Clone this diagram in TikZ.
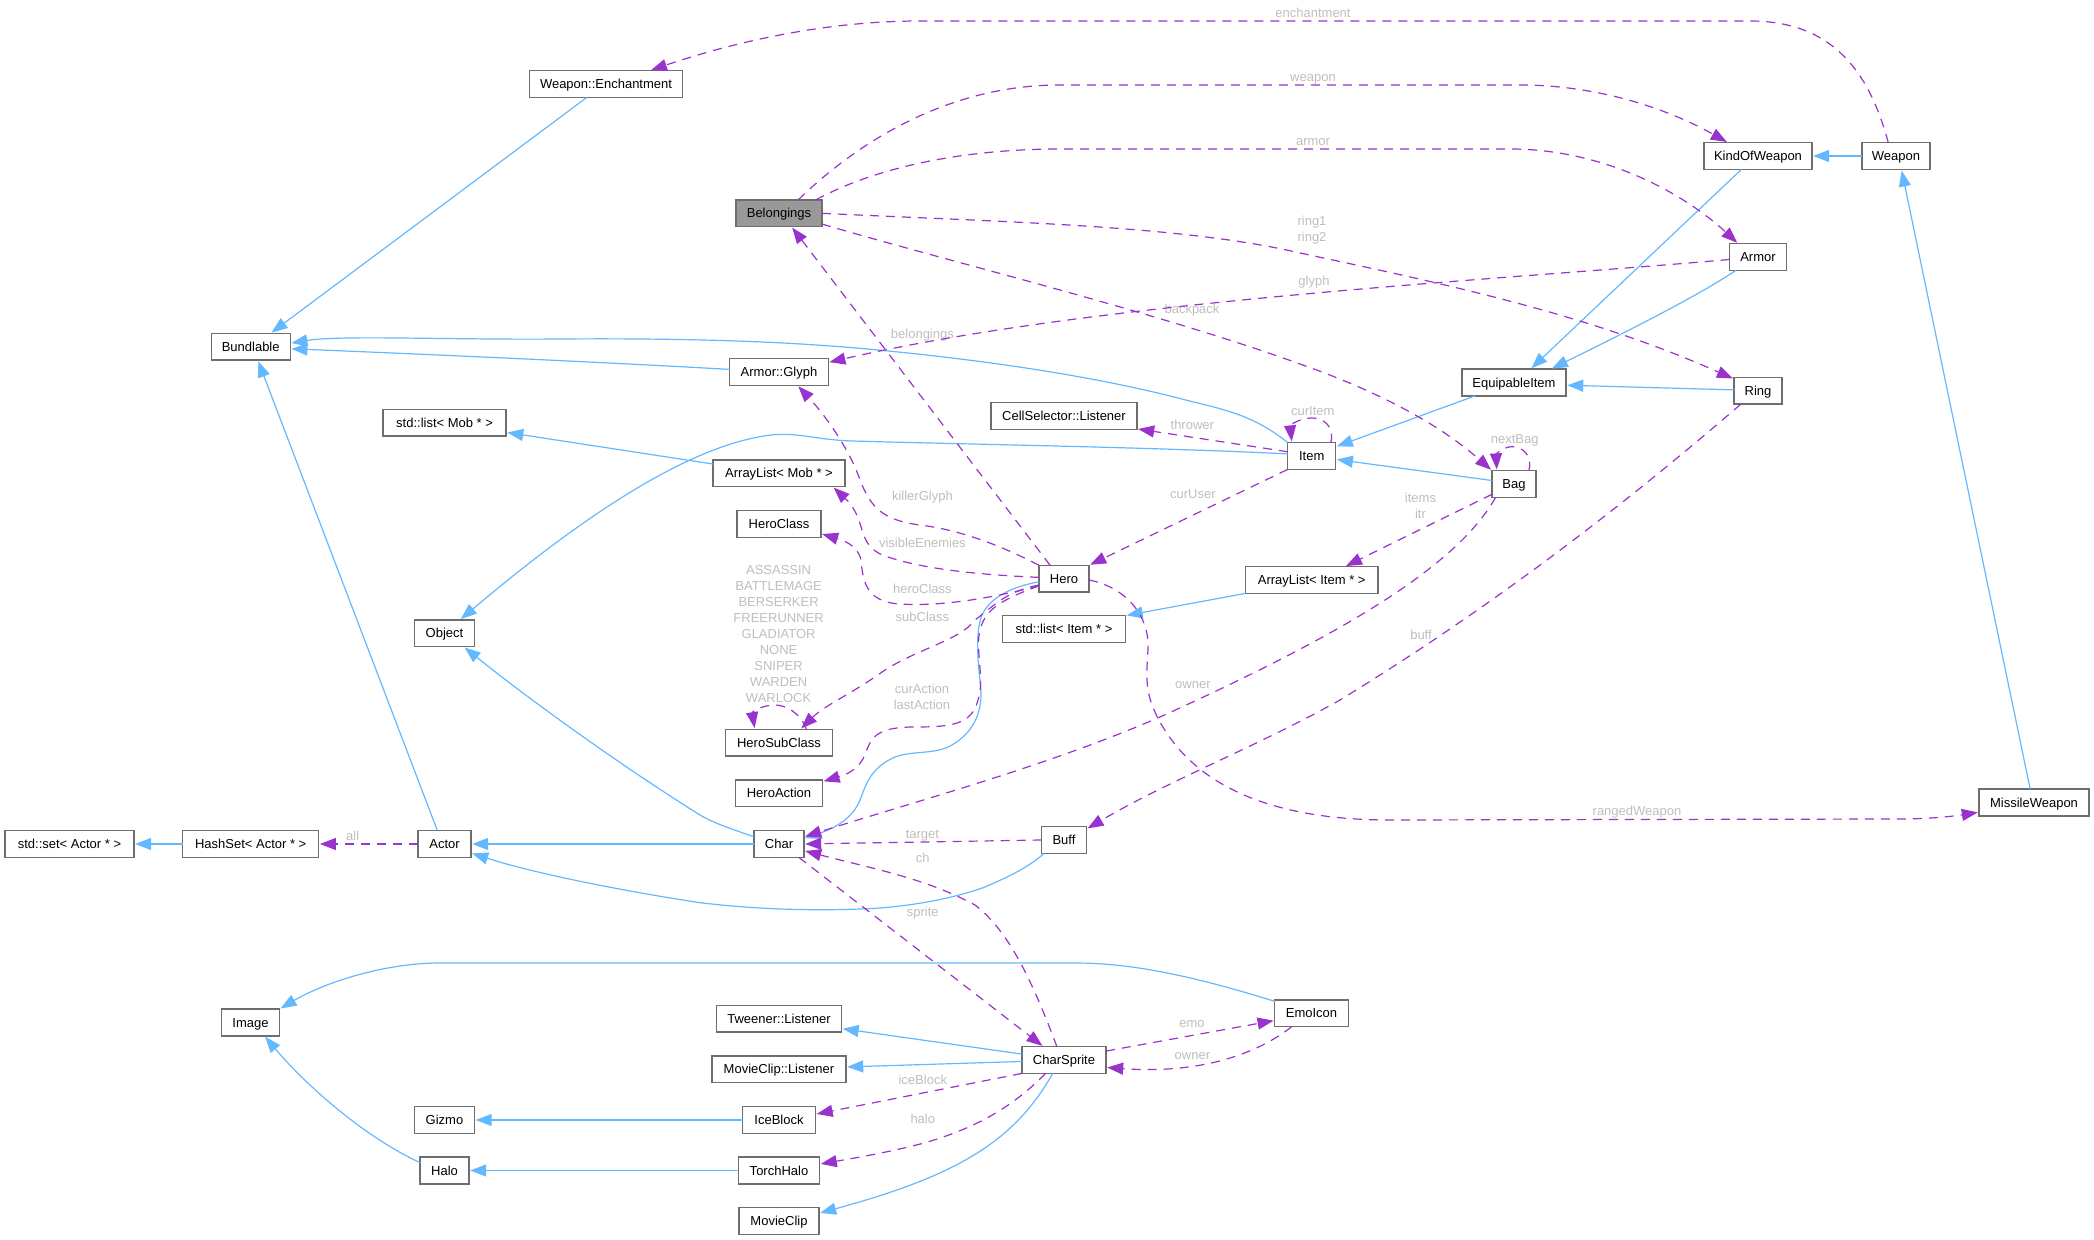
\documentclass[tikz,border=0pt]{standalone}
\usepackage{fontspec}
\setmainfont{Liberation Sans}
\usetikzlibrary{arrows.meta}
\definecolor{inheritblue}{HTML}{63B8FF}
\definecolor{usepurple}{HTML}{9A32CD}
\definecolor{boxgray}{HTML}{6E6E6E}
\definecolor{focusgray}{HTML}{999999}
\definecolor{labelgray}{HTML}{BEBEBE}
\begin{document}
\begin{tikzpicture}[x=0.5pt, y=-0.5pt]

    % Styles
    \tikzstyle{classbox} = [rectangle, minimum height=13.4pt, inner sep=0pt, outer sep=0pt, text centered, text height=6pt, text depth=1.35pt, draw=boxgray, line width=0.65pt, fill=white, font=\fontsize{6.5}{8}\selectfont]
    \tikzstyle{focusbox} = [classbox, fill=focusgray]
    \tikzstyle{edgelines} = [inner sep=0pt, align=center, text=labelgray, font=\fontsize{6.5}{8}\selectfont]
    \tikzstyle{edgetext} = [edgelines, text height=6pt, text depth=1.35pt]
    \tikzstyle{extends} = [line width=0.6pt, color=inheritblue, shorten >=0.6pt, -{Triangle[length=8pt,width=6pt]}]
    \tikzstyle{uses} = [line width=0.6pt, color=usepurple, dash pattern=on 4.5pt off 3.5pt, shorten >=0.6pt, -{Triangle[length=8pt,width=6pt]}]

    \useasboundingbox (0,0) rectangle (2094,1240);

    % Nodes
    \node (belongings) [focusbox, minimum width=43pt] at (779,213.3) {Belongings};
    \node (enchantment) [classbox, minimum width=76.7pt] at (606,84) {Weapon::Enchantment};
    \node (kind-of-weapon) [classbox, minimum width=54pt] at (1758,156) {KindOfWeapon};
    \node (weapon) [classbox, minimum width=34pt] at (1896,156) {Weapon};
    \node (armor) [classbox, minimum width=28.5pt] at (1758,257) {Armor};
    \node (ring) [classbox, minimum width=24pt] at (1758,390.7) {Ring};
    \node (equipable) [classbox, minimum width=52pt] at (1514,382.5) {EquipableItem};
    \node (bundlable) [classbox, minimum width=39.5pt] at (250.7,346.7) {Bundlable};
    \node (armor-glyph) [classbox, minimum width=49.2pt] at (779,372) {Armor::Glyph};
    \node (cell-listener) [classbox, minimum width=73pt] at (1064,416) {CellSelector::Listener};
    \node (item) [classbox, minimum width=24pt] at (1311.7,456) {Item};
    \node (bag) [classbox, minimum width=22pt] at (1514,484) {Bag};
    \node (list-mob) [classbox, minimum width=61.5pt] at (444.6,422.6) {std::list< Mob * >};
    \node (array-mob) [classbox, minimum width=66pt] at (779,473.3) {ArrayList< Mob * >};
    \node (hero-class) [classbox, minimum width=42pt] at (779,524) {HeroClass};
    \node (hero) [classbox, minimum width=25pt] at (1064,578.7) {Hero};
    \node (array-item) [classbox, minimum width=66.3pt] at (1311.7,580) {ArrayList< Item * >};
    \node (list-item) [classbox, minimum width=61.5pt] at (1064,629) {std::list< Item * >};
    \node (object) [classbox, minimum width=30pt] at (444.5,633.3) {Object};
    \node (hero-subclass) [classbox, minimum width=53.5pt] at (779,742.7) {HeroSubClass};
    \node (hero-action) [classbox, minimum width=43.5pt] at (779,793.3) {HeroAction};
    \node (missile) [classbox, minimum width=55pt] at (2034,802.5) {MissileWeapon};
    \node (buff) [classbox, minimum width=22.5pt] at (1064,840) {Buff};
    \node (set-actor) [classbox, minimum width=64.5pt] at (69.5,844) {std::set< Actor * >};
    \node (hashset) [classbox, minimum width=68pt] at (250.7,844) {HashSet< Actor * >};
    \node (actor) [classbox, minimum width=26.5pt] at (444.5,844) {Actor};
    \node (char) [classbox, minimum width=25pt] at (779,844) {Char};
    \node (emoicon) [classbox, minimum width=36.8pt] at (1311.5,1013.3) {EmoIcon};
    \node (image) [classbox, minimum width=29pt] at (250.5,1022.5) {Image};
    \node (tween-listener) [classbox, minimum width=62.5pt] at (779,1018.7) {Tweener::Listener};
    \node (charsprite) [classbox, minimum width=42pt] at (1064,1060) {CharSprite};
    \node (clip-listener) [classbox, minimum width=67pt] at (779,1069.3) {MovieClip::Listener};
    \node (gizmo) [classbox, minimum width=30pt] at (444.5,1120) {Gizmo};
    \node (iceblock) [classbox, minimum width=36.5pt] at (779,1120) {IceBlock};
    \node (halo) [classbox, minimum width=24.5pt] at (444.5,1170.5) {Halo};
    \node (torchhalo) [classbox, minimum width=40.6pt] at (779,1170.5) {TorchHalo};
    \node (movieclip) [classbox, minimum width=40pt] at (779,1221) {MovieClip};

    % Labels
    \node (txt-enchantment) [edgetext] at (1313,13) {enchantment};
    \node (txt-weapon) [edgetext] at (1313,77) {weapon};
    \node (txt-armor) [edgetext] at (1313,141) {armor};
    \node (txt-ring) [edgelines] at (1312,230.5) {ring1\\ring2};
    \node (txt-glyph) [edgetext] at (1314,281) {glyph};
    \node (txt-backpack) [edgetext] at (1192,309) {backpack};
    \node (txt-belongings) [edgetext] at (922.4,334) {belongings};
    \node (txt-curitem) [edgetext] at (1312.8,411) {curItem};
    \node (txt-thrower) [edgetext] at (1192.3,424.7) {thrower};
    \node (txt-nextbag) [edgetext] at (1514.7,439.3) {nextBag};
    \node (txt-cursuser) [edgetext] at (1192.9,494) {curUser};
    \node (txt-killer) [edgetext] at (922.4,496) {killerGlyph};
    \node (txt-items) [edgelines] at (1420.5,506.2) {items\\itr};
    \node (txt-visible) [edgetext] at (922.4,542.7) {visibleEnemies};
    \node (txt-heroclass) [edgetext] at (922.4,589) {heroClass};
    \node (txt-subclass) [edgetext] at (922.4,617.3) {subClass};
    \node (txt-enum) [edgelines] at (778.6,634.5) {ASSASSIN\\BATTLEMAGE\\BERSERKER\\FREERUNNER\\GLADIATOR\\NONE\\SNIPER\\WARDEN\\WARLOCK};
    \node (txt-buff) [edgetext] at (1421,634.7) {buff};
    \node (txt-owner) [edgetext] at (1192.9,684) {owner};
    \node (txt-action) [edgelines] at (922,697.2) {curAction\\lastAction};
    \node (txt-ranged) [edgetext] at (1637,810.7) {rangedWeapon};
    \node (txt-target) [edgetext] at (922.4,834) {target};
    \node (txt-all) [edgetext] at (352.7,835.8) {all};
    \node (txt-ch) [edgetext] at (922.8,858) {ch};
    \node (txt-sprite) [edgetext] at (922.8,912) {sprite};
    \node (txt-emo) [edgetext] at (1192,1023) {emo};
    \node (txt-spriteowner) [edgetext] at (1192.4,1055) {owner};
    \node (txt-iceblock) [edgetext] at (922.8,1080) {iceBlock};
    \node (txt-halo) [edgetext] at (922.8,1118.7) {halo};

    % Inheritance arrows
    \draw [extends] (enchantment.215) -- (bundlable.34);
    \draw [extends] (item.north west) .. controls (1250,412) and (1215,408) .. (1178,398) .. controls (1100,378) and (1000,362) .. (888,351) .. controls (800,342) and (700,338) .. (560,339) .. controls (450,340) and (340,335) .. (bundlable.5);
    \draw [extends] (armor-glyph.177) .. controls (600,362) and (420,354) .. (bundlable.357);
    \draw [extends] (actor.118) -- (bundlable.298);
    \draw [extends] (item.175) .. controls (1150,447) and (950,444) .. (853,441) .. controls (815,440) and (795,431) .. (766,435.7) .. controls (690,447) and (590,510) .. (object.41);
    \draw [extends] (array-mob.172) -- (list-mob.351);
    \draw [extends] (char.west) -- (actor.east);
    \draw [extends] (char.164) .. controls (735,830) and (715,824) .. (700,815) .. controls (620,765) and (530,700) .. (object.325);
    \draw [extends] (buff.214) .. controls (1025,870) and (1005,878) .. (985.7,886.7) .. controls (950,900) and (900,908) .. (860,909) .. controls (780,912) and (720,905) .. (700,902.7) .. controls (630,892) and (540,875) .. (actor.341);
    \draw [extends] (hero.187) .. controls (1010,587) and (990,598) .. (982,615) .. controls (974,635) and (979,670) .. (981,690) .. controls (982,715) and (972,733) .. (952,745) .. controls (935,755) and (915,750) .. (895,757) .. controls (870,768) and (866,785) .. (860,800) .. controls (853,818) and (835,828) .. (char.12);
    \draw [extends] (weapon.west) -- (kind-of-weapon.east);
    \draw [extends] (kind-of-weapon.219) -- (equipable.39);
    \draw [extends] (armor.211) .. controls (1700,295) and (1620,335) .. (equipable.20);
    \draw [extends] (ring.178) -- (equipable.357);
    \draw [extends] (equipable.199) -- (item.21);
    \draw [extends] (bag.171) -- (item.352);
    \draw [extends] (array-item.south west) -- (list-item.north east);
    \draw [extends] (missile.106) -- (weapon.292);
    \draw [extends] (hashset.west) -- (set-actor.east);
    \draw [extends] (emoicon.162) .. controls (1190,975) and (1130,963) .. (1075,963) -- (440,963) .. controls (380,963) and (320,985) .. (image.north east);
    \draw [extends] (halo.162) .. controls (370,1140) and (310,1090) .. (image.316);
    \draw [extends] (iceblock.west) -- (gizmo.east);
    \draw [extends] (torchhalo.west) -- (halo.east);
    \draw [extends] (charsprite.172) -- (tween-listener.351);
    \draw [extends] (charsprite.182) -- (clip-listener.2);
    \draw [extends] (charsprite.230) .. controls (1015,1140) and (960,1175) .. (movieclip.11);

    % Usage arrows
    \draw [uses] (weapon.120) .. controls (1870,75) and (1835,21) .. (1750,21) -- (920,21) .. controls (830,21) and (740,40) .. (enchantment.17);
    \draw [uses] (belongings.35) .. controls (860,140) and (950,85) .. (1060,85) -- (1520,85) .. controls (1600,85) and (1670,110) .. (kind-of-weapon.156);
    \draw [uses] (belongings.20) .. controls (880,165) and (970,149) .. (1060,149) -- (1510,149) .. controls (1600,149) and (1680,190) .. (armor.146);
    \draw [uses] (belongings.east) .. controls (1000,222) and (1180,225) .. (1300,253) .. controls (1450,285) and (1590,315) .. (ring.154);
    \draw [uses] (belongings.346) .. controls (950,262) and (1150,310) .. (1300,364) .. controls (1380,392) and (1440,425) .. (bag.north west);
    \draw [uses] (armor.185) .. controls (1500,280) and (1100,300) .. (armor-glyph.11);
    \draw [uses] (hero.136) -- (belongings.313);
    \draw [uses] (hero.north west) .. controls (1000,545) and (960,530) .. (920,525) .. controls (880,520) and (870,505) .. (860,480) .. controls (850,450) and (825,415) .. (armor-glyph.324);
    \draw [uses] (hero.177) .. controls (985,575) and (925,570) .. (885,556) .. controls (855,545) and (868,520) .. (array-mob.346);
    \draw [uses] (hero.196) .. controls (1000,596) and (945,607) .. (900,604) .. controls (865,602) and (863,580) .. (861,560) .. controls (858,545) and (842,540) .. (hero-class.347);
    \draw [uses] (hero.194) .. controls (1005,592) and (995,605) .. (975,620) .. controls (960,640) and (920,648) .. (885,670) .. controls (850,695) and (825,705) .. (hero-subclass.32);
    \draw [uses] (hero.196) .. controls (1000,600) and (985,610) .. (980,630) .. controls (975,650) and (985,680) .. (978,700) .. controls (972,725) and (950,727) .. (915,727) .. controls (880,727) and (872,735) .. (866,752) .. controls (860,770) and (845,775) .. (hero-action.15);
    \draw [uses] (hero-subclass.26) .. controls (800,712) and (785,705) .. (775,705) .. controls (762,705) and (752,712) .. (hero-subclass.151);
    \draw [uses] (item.south west) -- (hero.north east);
    \draw [uses] (item.170) -- (cell-listener.350);
    \draw [uses] (item.35) .. controls (1335,425) and (1322,418) .. (1312,418) .. controls (1300,418) and (1290,425) .. (item.146);
    \draw [uses] (bag.205) -- (array-item.22);
    \draw [uses] (bag.42) .. controls (1533,455) and (1522,446.7) .. (1512,446.7) .. controls (1503,446.7) and (1496,455) .. (bag.142);
    \draw [uses] (bag.216) .. controls (1455,570) and (1330,640) .. (1160,717) .. controls (1050,765) and (920,800) .. (char.16);
    \draw [uses] (ring.218) .. controls (1607,520) and (1474,618) .. (1340,700) .. controls (1260,745) and (1170,780) .. (buff.26);
    \draw [uses] (hero.357) .. controls (1125,587) and (1150,615) .. (1148,650) .. controls (1146,680) and (1145,695) .. (1160,722) .. controls (1195,785) and (1270,820) .. (1390,820) -- (1900,819) .. controls (1930,819) and (1955,816) .. (missile.190);
    \draw [uses] (actor.west) -- (hashset.east);
    \draw [uses] (buff.west) -- (char.east);
    \draw [uses] (charsprite.118) .. controls (1032,980) and (1008,930) .. (975,905) .. controls (925,878) and (870,868) .. (char.345);
    \draw [uses] (char.326) -- (charsprite.147);
    \draw [uses] (charsprite.12) -- (emoicon.191);
    \draw [uses] (emoicon.214) .. controls (1265,1048) and (1210,1075) .. (charsprite.350);
    \draw [uses] (charsprite.south west) -- (iceblock.9);
    \draw [uses] (charsprite.216) .. controls (1010,1110) and (970,1130) .. (923,1143.3) .. controls (890,1152) and (855,1158) .. (torchhalo.9);

\end{tikzpicture}
\end{document}
